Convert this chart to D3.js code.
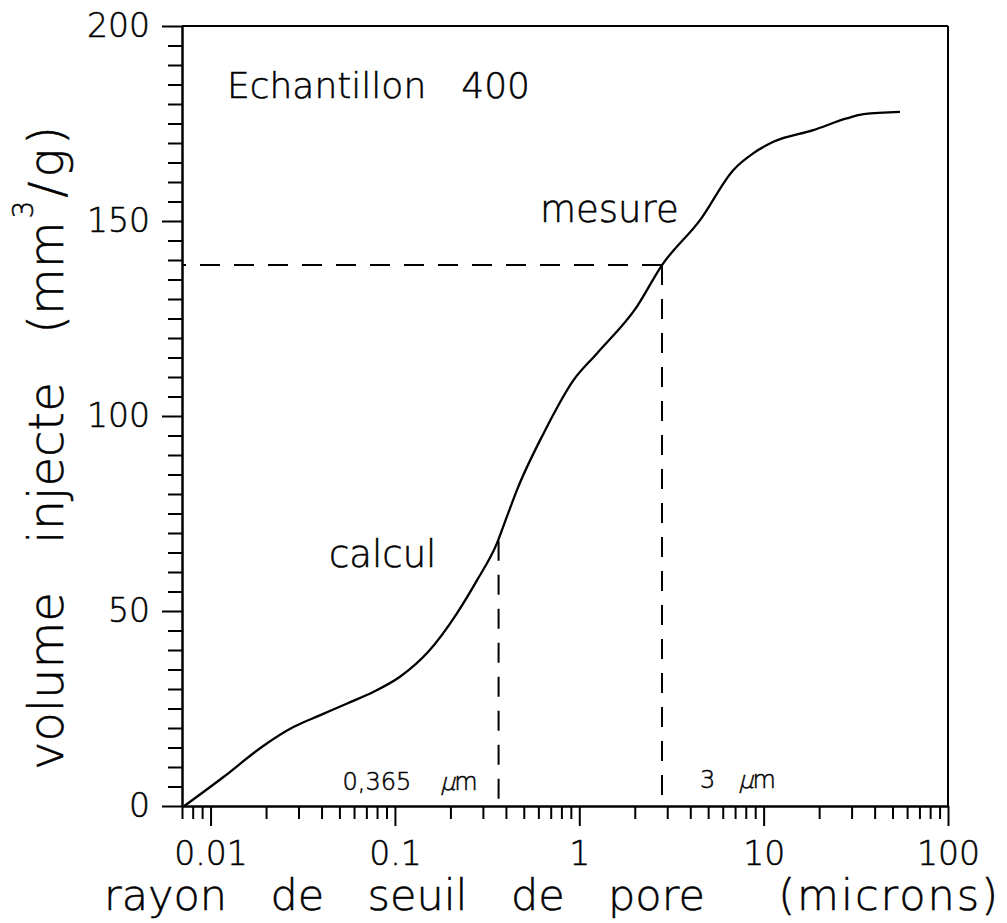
<!DOCTYPE html>
<html>
<head>
<meta charset="utf-8">
<script src="https://cdn.jsdelivr.net/npm/d3@7"></script>
<style>
  html, body { margin: 0; padding: 0; background: #fff; }
  svg { display: block; }
  text { font-family: "DejaVu Sans", "Liberation Sans", sans-serif; font-weight: 200; fill: #000; stroke: #000; stroke-width: 0.5px; }
</style>
</head>
<body>
<svg id="chart" width="1007" height="923"></svg>
<script>
// ---- data ----
const radius = [0.0072, 0.0118, 0.01905, 0.0283, 0.0394, 0.0551, 0.0767, 0.107, 0.152, 0.217, 0.279, 0.358, 0.405, 0.459, 0.641, 0.931, 1.25, 2.05, 2.81, 4.53, 6.86, 8.81, 11.3, 18.6, 28.2, 34.8, 54.9];
const volume = [0, 7.5, 15.2, 20.3, 23.3, 26.3, 29.3, 33.2, 39.6, 49.4, 57.9, 67.4, 74.2, 81.0, 95.6, 109.2, 116.1, 128.0, 138.7, 150.3, 163.1, 167.4, 170.3, 173.3, 176.3, 177.4, 178.0];

const xTickValues = [0.01, 0.1, 1, 10, 100];
const xTickLabels = ["0.01", "0.1", "1", "10", "100"];
const yTickValues = [0, 50, 100, 150, 200];
const yTickLabels = ["0", "50", "100", "150", "200"];

const markerRadius = [0.365, 2.81];
const markerVolume = [68, 138.7];
const markerLabels = ["0,365", "3"];
const markerUnitPrefix = "\u00b5";
const markerUnit = "m";

const sampleTitle = "Echantillon 400";
const curveLabels = ["mesure", "calcul"];
const xTitle = "rayon de seuil de pore";
const xTitleUnit = "(microns)";
const yTitleMain = "volume injecte (mm";
const yTitleSup = "3";
const yTitleEnd = "/g)";

(function () {
// ---- layout ----
const svg = d3.select("#chart");
const mLeft = 182, mRight = 948, mTop = 26, mBottom = 806;

const x = d3.scaleLog().domain([0.007, 100]).range([mLeft, mRight]);
const y = d3.scaleLinear().domain([0, 200]).range([mBottom, mTop]);

// minor tick positions (2..9 per decade inside the domain)
const xMinor = [];
for (let e = -3; e <= 1; e++) {
  for (let k = 2; k <= 9; k++) {
    const v = k * Math.pow(10, e);
    if (v >= 0.007 && v <= 100) xMinor.push(+v.toPrecision(3));
  }
}
const yMinor = d3.range(0, 201, 5).filter(v => v % 50 !== 0);

// frame (top and right)
svg.append("line").attr("x1", x.range()[0]).attr("x2", x.range()[1])
  .attr("y1", y(200)).attr("y2", y(200)).attr("stroke", "#000").attr("stroke-width", 2);
svg.append("line").attr("x1", x(100)).attr("x2", x(100))
  .attr("y1", y(200)).attr("y2", y(0)).attr("stroke", "#000").attr("stroke-width", 2);

// x axis minor
svg.append("g").attr("transform", `translate(0,${mBottom})`)
  .call(d3.axisBottom(x).tickValues(xMinor).tickSize(13).tickSizeOuter(0).tickFormat(""));
// x axis major
svg.append("g").attr("transform", `translate(0,${mBottom})`)
  .call(d3.axisBottom(x).tickValues(xTickValues).tickSize(20).tickSizeOuter(0).tickPadding(16)
    .tickFormat((d, i) => xTickLabels[i]));
// y axis minor
svg.append("g").attr("transform", `translate(${mLeft},0)`)
  .call(d3.axisLeft(y).tickValues(yMinor).tickSize(14).tickSizeOuter(0).tickFormat(""));
// y axis major
svg.append("g").attr("transform", `translate(${mLeft},0)`)
  .call(d3.axisLeft(y).tickValues(yTickValues).tickSize(20).tickSizeOuter(0).tickPadding(12)
    .tickFormat((d, i) => yTickLabels[i]));

svg.selectAll(".domain").attr("stroke", "#000").attr("stroke-width", 2);
svg.selectAll(".tick line").attr("stroke", "#000").attr("stroke-width", 2);
svg.selectAll(".tick text").attr("font-family", "DejaVu Sans").attr("font-weight", 200)
  .attr("font-size", 33).attr("fill", "#000");

// dashed guide lines: from the curve point to the axes
const dash = "20,14";
markerRadius.forEach((r, i) => {
  svg.append("line")
    .attr("x1", x(r)).attr("y1", y(markerVolume[i]))
    .attr("x2", x(r)).attr("y2", y(0))
    .attr("stroke", "#000").attr("stroke-width", 2).attr("stroke-dasharray", dash);
});
svg.append("line")
  .attr("x1", x(markerRadius[1])).attr("y1", y(markerVolume[1]))
  .attr("x2", x(0.007)).attr("y2", y(markerVolume[1]))
  .attr("stroke", "#000").attr("stroke-width", 2).attr("stroke-dasharray", dash);

// curve
const pts = radius.map((r, i) => [r, volume[i]]);
svg.append("path").datum(pts)
  .attr("fill", "none").attr("stroke", "#000").attr("stroke-width", 2.3)
  .attr("stroke-linejoin", "round")
  .attr("d", d3.line().x(d => x(d[0])).y(d => y(d[1])).curve(d3.curveMonotoneX));

// helper: stretch word spacing so a text's box spans a target length
function fitWords(sel, target, nSpaces) {
  sel.attr("word-spacing", 0);
  const w0 = sel.node().getBBox().width;
  let ws = Math.max(0, (target - w0) / nSpaces);
  sel.attr("word-spacing", ws);
  const w1 = sel.node().getBBox().width;
  if (w1 - w0 > 0.5 && ws > 0) {
    ws = ws * (target - w0) / (w1 - w0);
    sel.attr("word-spacing", Math.max(0, ws));
  }
}

// sample title
const t1 = svg.append("text").attr("x", 227).attr("y", 98).attr("font-size", 36).text(sampleTitle);
fitWords(t1, 303, 1);

// curve labels
svg.append("text").attr("x", 540).attr("y", 222).attr("font-size", 37).text(curveLabels[0]);
svg.append("text").attr("x", 329).attr("y", 567).attr("font-size", 37).text(curveLabels[1]);

// marker labels: number, slanted micro sign, unit
function markerLabel(i, numStart, unitEnd, baseline) {
  svg.append("text").attr("x", x(markerRadius[i]) + numStart).attr("y", baseline)
    .attr("font-size", 24).text(markerLabels[i]);
  const mx = x(markerRadius[i]) + unitEnd;
  const mt = svg.append("text").attr("x", mx).attr("y", baseline)
    .attr("font-size", 24).attr("text-anchor", "end").text(markerUnit);
  const mw = mt.node().getComputedTextLength();
  svg.append("text").attr("transform", `translate(${mx - mw + 1},${baseline}) skewX(-14)`)
    .attr("font-size", 24).attr("text-anchor", "end").text(markerUnitPrefix);
}
markerLabel(0, -156, -21, 790);
markerLabel(1, 38, 114, 788);

// x title
const xt = svg.append("text").attr("x", 104).attr("y", 910).attr("font-size", 43);
xt.append("tspan").text(xTitle + " ");
xt.append("tspan").attr("dx", 30).attr("letter-spacing", 2).text(xTitleUnit);
fitWords(xt, 896, 5);

// y title
const yt = svg.append("text").attr("transform", "translate(63,770) rotate(-90)").attr("font-size", 48);
yt.append("tspan").text(yTitleMain);
yt.append("tspan").attr("font-size", 28).attr("dy", -30).attr("dx", 3).text(yTitleSup);
yt.append("tspan").attr("dy", 30).attr("dx", 3).attr("letter-spacing", 4).text(yTitleEnd);
fitWords(yt, 648, 2);
})();
</script>
</body>
</html>
